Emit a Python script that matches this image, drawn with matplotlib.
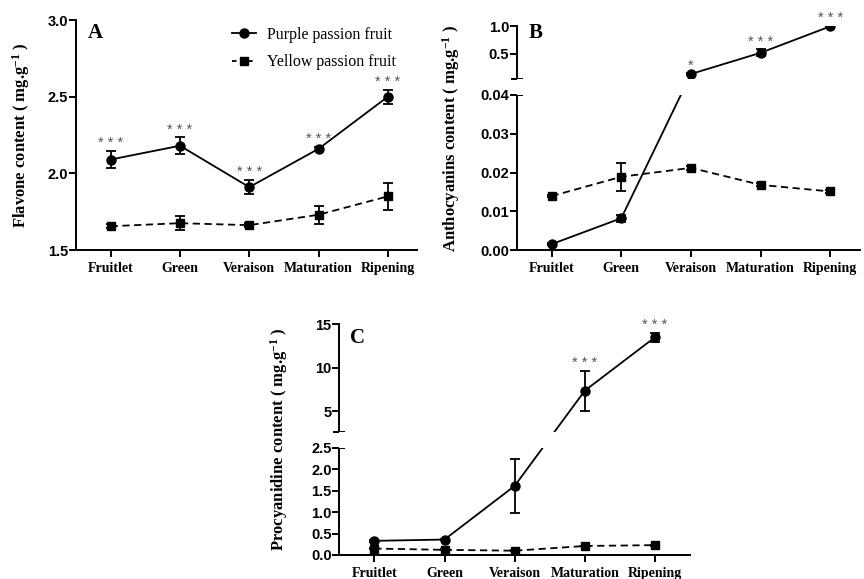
import matplotlib
matplotlib.use('Agg')
import matplotlib.pyplot as plt
import matplotlib.transforms as mtransforms
from matplotlib.lines import Line2D
import numpy as np

plt.rcParams['font.family'] = 'Liberation Serif'
plt.rcParams['mathtext.fontset'] = 'custom'
plt.rcParams['mathtext.rm'] = 'Liberation Serif'

stages = ['Fruitlet', 'Green', 'Veraison', 'Maturation', 'Ripening']

# A - flavone
flavone_purple = [2.09, 2.18, 1.91, 2.16, 2.50]
flavone_purple_err = [0.055, 0.054, 0.048, 0.012, 0.045]
flavone_yellow = [1.655, 1.675, 1.662, 1.73, 1.85]
flavone_yellow_err = [0.012, 0.045, 0.012, 0.059, 0.088]
flavone_stars = ['***', '***', '***', '***', '***']

# B - anthocyanins
antho_purple = [0.0015, 0.0082, 0.14, 0.52, 0.995]
antho_purple_err = [0.0002, 0.0009, 0.012, 0.06, 0.012]
antho_yellow = [0.0139, 0.0189, 0.0212, 0.0168, 0.0151]
antho_yellow_err = [0.0003, 0.0036, 0.0006, 0.0004, 0.0003]
antho_stars = ['', '', '*', '***', '***']

# C - procyanidine
procy_purple = [0.33, 0.36, 1.61, 7.35, 13.5]
procy_purple_err = [0.02, 0.02, 0.62, 2.3, 0.5]
procy_yellow = [0.15, 0.12, 0.10, 0.21, 0.23]
procy_yellow_err = [0.01, 0.01, 0.01, 0.01, 0.01]
procy_stars = ['', '', '', '***', '***']

TICK_FONT = dict(family='Liberation Sans', weight='bold', size=10.5)
DASH = (0, (4, 2.5))


def broken_scale(b_hi, t_lo, t_hi, h_b, h_g, h_t):
    xp = np.array([0.0, b_hi, t_lo, t_hi])
    fp = np.array([0.0, h_b, h_b + h_g, h_b + h_g + h_t])

    def fwd(y):
        y = np.asarray(y, float)
        out = np.interp(y, xp, fp)
        out = np.where(y < 0, y * h_b / b_hi, out)
        out = np.where(y > t_hi, fp[-1] + (y - t_hi) * h_t / (t_hi - t_lo), out)
        return out

    def inv(v):
        v = np.asarray(v, float)
        out = np.interp(v, fp, xp)
        out = np.where(v < 0, v * b_hi / h_b, out)
        out = np.where(v > fp[-1], t_hi + (v - fp[-1]) * (t_hi - t_lo) / h_t, out)
        return out

    return fwd, inv


def draw(ax, purple, perr, yellow, yerr, stars):
    x = np.arange(len(stages))
    ax.errorbar(x, purple, yerr=perr, fmt='-o', color='black', ms=6.5, lw=1.3,
                elinewidth=1.3, capsize=3.5, capthick=1.3, zorder=2)
    ax.errorbar(x, yellow, yerr=yerr, fmt='s', linestyle=DASH, color='black',
                ms=6, lw=1.3, elinewidth=1.3, capsize=3.5, capthick=1.3,
                zorder=2)
    for i, s in enumerate(stars):
        if s:
            ax.annotate(' '.join(s), xy=(i, purple[i] + perr[i]), xytext=(0, 0.5),
                        textcoords='offset points', ha='center', va='bottom',
                        fontsize=10.5, color='#555555', family='Liberation Sans',
                        annotation_clip=False)
    ax.set_xticks(x)
    ax.set_xticklabels(stages, fontsize=10, fontweight='bold')
    ax.set_xlim(-0.5, 4.42)
    for s in ['top', 'right']:
        ax.spines[s].set_visible(False)
    for s in ['left', 'bottom']:
        ax.spines[s].set_linewidth(1.4)
    ax.tick_params(axis='both', width=1.4, length=5)
    ax.tick_params(axis='x', pad=3.5)
    ax.tick_params(axis='y', pad=0.5)


def break_axis(ax, b_hi, t_lo, t_hi):
    ax.spines['left'].set_visible(False)
    tr = mtransforms.blended_transform_factory(ax.transAxes, ax.transData)
    ax.plot([0, 0], [0, b_hi], transform=tr, color='black', lw=1.4,
            clip_on=False, solid_capstyle='projecting')
    ax.plot([0, 0], [t_lo, t_hi], transform=tr, color='black', lw=1.4,
            clip_on=False, solid_capstyle='projecting')
    for yv in (b_hi, t_lo):
        ax.plot([-0.014, 0.014], [yv, yv], transform=tr, color='black',
                lw=1.4, clip_on=False)
    ax.axhspan(b_hi, t_lo, color='white', zorder=2.5, lw=0)


def ylabel(ax, txt, xpos):
    ax.set_ylabel(txt + r' ( mg.g$\mathregular{^{-1}}$ )', fontsize=12,
                  fontweight='bold')
    ax.yaxis.set_label_coords(xpos, 0.5)


fig = plt.figure(figsize=(8.64, 5.79), dpi=100)

# A
axA = fig.add_axes([76 / 864, 1 - 250 / 579, 341 / 864, 230 / 579])
draw(axA, flavone_purple, flavone_purple_err, flavone_yellow,
     flavone_yellow_err, flavone_stars)
axA.set_ylim(1.5, 3.0)
axA.set_yticks([1.5, 2.0, 2.5, 3.0])
axA.set_yticklabels(['1.5', '2.0', '2.5', '3.0'], fontproperties=TICK_FONT)
ylabel(axA, 'Flavone content', -0.129)
axA.text(0.056, 0.943, 'A', transform=axA.transAxes, ha='center', va='center',
         fontsize=15, fontweight='bold')
handles = [Line2D([], [], color='black', marker='o', ms=6.5, lw=1.3),
           Line2D([], [], color='black', marker='s', ms=6, lw=1.3,
                  linestyle=(0, (2.5, 2)))]
axA.legend(handles, ['Purple passion fruit', 'Yellow passion fruit'],
           loc='upper left', bbox_to_anchor=(0.457, 0.97), frameon=False,
           borderaxespad=0, borderpad=0, fontsize=11.5, handlelength=1.5,
           handletextpad=0.7, labelspacing=0.72)

# B
axB = fig.add_axes([516.7 / 864, 1 - 250 / 579, 343 / 864, 224 / 579])
fwd, inv = broken_scale(0.04, 0.05, 1.0, 155, 16, 53)
axB.set_yscale('function', functions=(fwd, inv))
draw(axB, antho_purple, antho_purple_err, antho_yellow, antho_yellow_err,
     antho_stars)
axB.set_ylim(0, 1.0)
axB.set_yticks([0, 0.01, 0.02, 0.03, 0.04, 0.5, 1.0])
axB.set_yticklabels(['0.00', '0.01', '0.02', '0.03', '0.04', '0.5', '1.0'],
                    fontproperties=TICK_FONT)
axB.minorticks_off()
break_axis(axB, 0.04, 0.05, 1.0)
ylabel(axB, 'Anthocyanins content', -0.159)
axB.text(0.056, 0.969, 'B', transform=axB.transAxes, ha='center', va='center',
         fontsize=15, fontweight='bold')

# C
axC = fig.add_axes([339.3 / 864, 1 - 555 / 579, 350.7 / 864, 230.7 / 579])
fwd, inv = broken_scale(2.5, 2.55, 15, 107.3, 15.4, 108)
axC.set_yscale('function', functions=(fwd, inv))
draw(axC, procy_purple, procy_purple_err, procy_yellow, procy_yellow_err,
     procy_stars)
axC.set_xlim(-0.5, 4.5)
axC.set_ylim(0, 15)
axC.set_yticks([0, 0.5, 1.0, 1.5, 2.0, 2.5, 5, 10, 15])
axC.set_yticklabels(['0.0', '0.5', '1.0', '1.5', '2.0', '2.5', '5', '10', '15'],
                    fontproperties=TICK_FONT)
axC.minorticks_off()
break_axis(axC, 2.5, 2.55, 15)
ylabel(axC, 'Procyanidine content', -0.141)
axC.text(0.053, 0.941, 'C', transform=axC.transAxes, ha='center', va='center',
         fontsize=15, fontweight='bold')

fig.savefig('out.png', dpi=100)
